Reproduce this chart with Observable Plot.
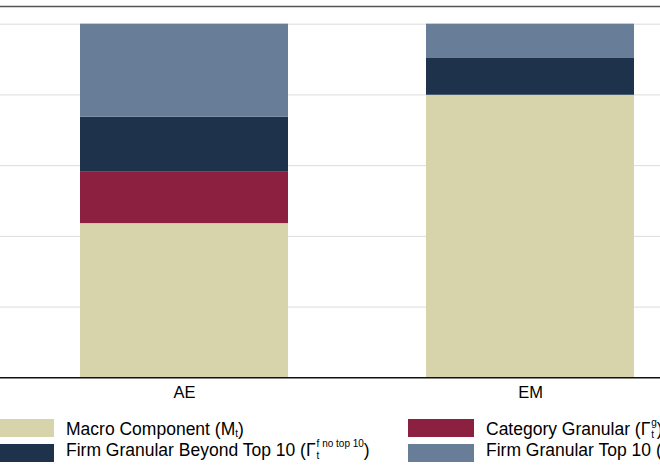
<!DOCTYPE html>
<html>
<head>
<meta charset="utf-8">
<script src="https://cdn.jsdelivr.net/npm/d3@7"></script>
<script src="https://cdn.jsdelivr.net/npm/@observablehq/plot@0.6"></script>
<style>
  html, body { margin: 0; padding: 0; background: #fff; }
  #wrap { position: relative; width: 660px; height: 470px; overflow: hidden; font-family: "Liberation Sans", Arial, sans-serif; color: #000; }
  #chart svg { display: block; }
  .sw { position: absolute; width: 66px; height: 18px; }
  .lt { position: absolute; font-size: 17.5px; line-height: 17px; white-space: nowrap; }
  .ss { display: inline-flex; flex-direction: column; font-size: 10px; line-height: 12px; position: relative; top: -9px; margin-left: 1px; }
  .sb { font-size: 10px; position: relative; top: 2px; }
</style>
</head>
<body>
<div id="wrap">
  <div id="chart"></div>
  <div id="legend"></div>
</div>
<script>
const regions = ["AE", "EM"];
const seriesNames = ["Macro Component", "Category Granular", "Firm Granular Beyond Top 10", "Firm Granular Top 10"];
const macro = [43.6, 79.9];
const categoryGranular = [14.7, 0];
const beyondTop10 = [15.4, 10.4];
const top10 = [26.3, 9.7];
const colors = ["#d7d3aa", "#8b2040", "#1e324c", "#687d97"];
const yTicks = [0, 20, 40, 60, 80, 100];
const yMax = 105;

const seriesValues = [macro, categoryGranular, beyondTop10, top10];
const data = regions.flatMap((r, i) =>
  seriesValues.map((arr, j) => ({region: r, series: seriesNames[j], value: arr[i]}))
);

const chart = Plot.plot({
  width: 660,
  height: 405,
  marginTop: 6,
  marginBottom: 27.7,
  marginLeft: 0,
  marginRight: 0,
  style: {fontFamily: "Liberation Sans, Arial, sans-serif", color: "#000", background: "#fff"},
  x: {domain: regions, range: [-59.8, 773], padding: 0.4, label: null},
  y: {domain: [0, yMax], axis: null},
  color: {domain: seriesNames, range: colors},
  marks: [
    Plot.ruleY(yTicks.slice(1), {stroke: "#dcdcdc", strokeWidth: 1}),
    Plot.barY(data, {x: "region", y: "value", fill: "series", order: seriesNames, inset: 0}),
    Plot.ruleY([0], {stroke: "#111", strokeWidth: 1.5}),
    Plot.ruleY([yMax], {stroke: "#555", strokeWidth: 1.5}),
    Plot.axisX({tickSize: 0, tickPadding: 8.5, fontSize: 16.5, fill: "#000", label: null})
  ]
});
document.getElementById("chart").appendChild(chart);

// Legend (HTML, below the SVG)
const legendLabels = [
  'Macro Component (M<span class="sb">t</span>)',
  'Category Granular (\u0393<span class="ss"><span>g</span><span>t</span></span>)',
  'Firm Granular Beyond Top 10 (\u0393<span class="ss"><span>f no top 10</span><span>t</span></span>)',
  'Firm Granular Top 10 (\u0393<span class="ss"><span>f top 10</span><span>t</span></span>)'
];
const legendPos = [
  {sx: -12, sy: 419, tx: 66, ty: 420.6},
  {sx: 408, sy: 419, tx: 486, ty: 420.6},
  {sx: -12, sy: 444, tx: 66, ty: 442.3},
  {sx: 408, sy: 444, tx: 486, ty: 442.3}
];
const legend = document.getElementById("legend");
seriesNames.forEach((name, i) => {
  const p = legendPos[i];
  const sw = document.createElement("div");
  sw.className = "sw";
  sw.style.left = p.sx + "px";
  sw.style.top = p.sy + "px";
  sw.style.background = colors[i];
  legend.appendChild(sw);
  const t = document.createElement("div");
  t.className = "lt";
  t.style.left = p.tx + "px";
  t.style.top = p.ty + "px";
  t.innerHTML = legendLabels[i];
  legend.appendChild(t);
});
</script>
</body>
</html>
